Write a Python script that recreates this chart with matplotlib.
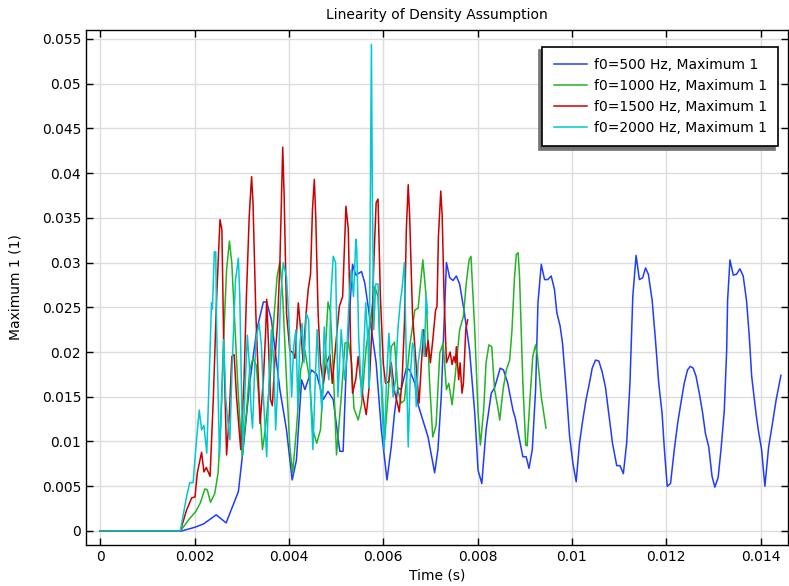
import matplotlib
matplotlib.use("Agg")
import matplotlib.pyplot as plt
from matplotlib.ticker import FuncFormatter, MultipleLocator

# Puntos: (tiempo [s], Maximum 1)
pts_500 = [
    (0, 0), (0.00173, 0), (0.0020, 0.0004), (0.00219, 0.00078), (0.00246, 0.0018),
    (0.00267, 0.0009), (0.00293, 0.0044), (0.00303, 0.0091), (0.00317, 0.0165),
    (0.00332, 0.0225), (0.00346, 0.0256), (0.00353, 0.0256), (0.00363, 0.0236),
    (0.00381, 0.0158), (0.00395, 0.0113), (0.00407, 0.0057), (0.00416, 0.0079),
    (0.00427, 0.0169), (0.00434, 0.0158), (0.00448, 0.018), (0.00459, 0.0175),
    (0.00473, 0.0147), (0.00483, 0.0156), (0.00494, 0.0147), (0.00508, 0.0089),
    (0.00515, 0.0089), (0.00522, 0.0188), (0.00535, 0.0298), (0.00542, 0.0286),
    (0.00554, 0.029), (0.00561, 0.0277), (0.00575, 0.0225), (0.00585, 0.0188),
    (0.00596, 0.0113), (0.00608, 0.0057), (0.00617, 0.0094), (0.00624, 0.0132),
    (0.00631, 0.016), (0.00638, 0.0158), (0.00649, 0.0182), (0.00656, 0.018),
    (0.00667, 0.0165), (0.00674, 0.0141), (0.00684, 0.0124), (0.00695, 0.0105),
    (0.00709, 0.0065), (0.00716, 0.0091), (0.00723, 0.015), (0.00734, 0.03),
    (0.00741, 0.0283), (0.00748, 0.028), (0.00755, 0.0285), (0.00762, 0.0276),
    (0.00772, 0.0244), (0.00783, 0.0202), (0.00794, 0.0132), (0.00801, 0.0068),
    (0.00809, 0.0053), (0.00818, 0.0113), (0.00829, 0.0154), (0.00836, 0.016),
    (0.00848, 0.0182), (0.00855, 0.018), (0.00864, 0.0165), (0.00875, 0.0135),
    (0.0088, 0.0126), (0.00889, 0.0102), (0.00896, 0.0083), (0.00903, 0.0083),
    (0.00909, 0.007), (0.00916, 0.0091), (0.00923, 0.0158), (0.00928, 0.0255),
    (0.00935, 0.0298), (0.00942, 0.0281), (0.00949, 0.0281), (0.00956, 0.0285),
    (0.00963, 0.027), (0.00968, 0.0244), (0.00975, 0.0229), (0.0098, 0.021),
    (0.00988, 0.0158), (0.00995, 0.0106), (0.01002, 0.0076), (0.01009, 0.0055),
    (0.01016, 0.0098), (0.01023, 0.0124), (0.0103, 0.0147), (0.01037, 0.0165),
    (0.01043, 0.0182), (0.0105, 0.0191), (0.01057, 0.019), (0.01064, 0.0178),
    (0.01071, 0.0161), (0.01078, 0.0132), (0.01086, 0.0098), (0.01095, 0.0073),
    (0.01102, 0.0073), (0.01109, 0.0064), (0.01116, 0.0098), (0.01123, 0.0165),
    (0.01129, 0.0262), (0.01136, 0.0308), (0.01143, 0.0281), (0.0115, 0.0283),
    (0.01156, 0.0294), (0.01162, 0.0287), (0.0117, 0.0258), (0.01177, 0.0214),
    (0.01184, 0.0165), (0.01191, 0.0132), (0.01196, 0.0091), (0.01202, 0.005),
    (0.01209, 0.0053), (0.01217, 0.0091), (0.01224, 0.012), (0.01231, 0.0143),
    (0.01238, 0.0165), (0.01245, 0.018), (0.01251, 0.0184), (0.01257, 0.0182),
    (0.01263, 0.0173), (0.0127, 0.0154), (0.01277, 0.0132), (0.01283, 0.0109),
    (0.0129, 0.0094), (0.01297, 0.0061), (0.01303, 0.0049), (0.0131, 0.006),
    (0.01316, 0.0091), (0.01323, 0.0135), (0.01328, 0.0202), (0.0133, 0.0258),
    (0.01335, 0.0303), (0.01342, 0.0286), (0.01349, 0.0287), (0.01356, 0.0293),
    (0.01363, 0.0285), (0.0137, 0.0258), (0.01376, 0.0217), (0.01381, 0.0173),
    (0.0139, 0.0132), (0.01395, 0.0113), (0.01402, 0.0091), (0.01409, 0.005),
    (0.01417, 0.0094), (0.01425, 0.012), (0.01433, 0.0147), (0.01443, 0.0174),
]

pts_1000 = [
    (0, 0), (0.0017, 0), (0.0019, 0.0014), (0.00203, 0.0022), (0.00212, 0.0031),
    (0.00222, 0.0047), (0.00227, 0.0046), (0.00234, 0.0032), (0.00243, 0.0042),
    (0.0025, 0.0065), (0.00255, 0.0113), (0.00261, 0.0206), (0.00268, 0.0292),
    (0.00274, 0.0324), (0.00279, 0.03), (0.00286, 0.0225), (0.00293, 0.015),
    (0.00301, 0.0083), (0.0031, 0.0132), (0.00317, 0.018), (0.00324, 0.0193),
    (0.00331, 0.0185), (0.00339, 0.0132), (0.00344, 0.0091), (0.0035, 0.0113),
    (0.0036, 0.0169), (0.00368, 0.0236), (0.00375, 0.0284), (0.00381, 0.0301),
    (0.00387, 0.0262), (0.00395, 0.0169), (0.00402, 0.0094), (0.00408, 0.0065),
    (0.00416, 0.0113), (0.00425, 0.018), (0.00434, 0.0202), (0.00444, 0.0169),
    (0.00451, 0.0113), (0.00459, 0.0098), (0.00467, 0.0113), (0.00476, 0.0188),
    (0.00483, 0.0256), (0.00488, 0.0245), (0.00495, 0.0169), (0.00501, 0.0085),
    (0.00511, 0.015), (0.00519, 0.021), (0.00526, 0.0211), (0.00533, 0.0188),
    (0.00538, 0.0137), (0.00547, 0.0124), (0.00554, 0.0141), (0.00564, 0.0206),
    (0.00575, 0.0243), (0.00582, 0.0273), (0.00589, 0.0262), (0.00596, 0.0169),
    (0.00603, 0.0102), (0.0061, 0.015), (0.00617, 0.0206), (0.00624, 0.0211),
    (0.00631, 0.0158), (0.00638, 0.0143), (0.00645, 0.0146), (0.00656, 0.0206),
    (0.00667, 0.0247), (0.00674, 0.0249), (0.00684, 0.0303), (0.00691, 0.0262),
    (0.00698, 0.0169), (0.00705, 0.0105), (0.00712, 0.0118), (0.0072, 0.0199),
    (0.00727, 0.021), (0.00734, 0.0158), (0.00739, 0.0165), (0.00746, 0.0141),
    (0.00753, 0.0176), (0.00762, 0.0225), (0.0077, 0.024), (0.00776, 0.0277),
    (0.00782, 0.0303), (0.00786, 0.0307), (0.00794, 0.0225), (0.00801, 0.0132),
    (0.00806, 0.0096), (0.00813, 0.0136), (0.00818, 0.0188), (0.00824, 0.0208),
    (0.0083, 0.0206), (0.00836, 0.0158), (0.00843, 0.0138), (0.00847, 0.0124),
    (0.00854, 0.0158), (0.00861, 0.018), (0.00868, 0.0191), (0.00873, 0.0225),
    (0.00878, 0.0281), (0.00882, 0.0309), (0.00886, 0.0311), (0.00889, 0.0284),
    (0.00896, 0.0165), (0.00902, 0.0096), (0.00905, 0.0095), (0.00911, 0.0147),
    (0.00917, 0.0195), (0.00923, 0.0208), (0.00927, 0.0195), (0.00935, 0.015),
    (0.00945, 0.0115),
]

pts_1500 = [
    (0, 0), (0.0017, 0), (0.00183, 0.0023), (0.00194, 0.0037), (0.00201, 0.0038),
    (0.00206, 0.0065), (0.00215, 0.0088), (0.0022, 0.0066), (0.00225, 0.0071),
    (0.00233, 0.0061), (0.0024, 0.015), (0.00247, 0.0262), (0.00254, 0.0348),
    (0.00258, 0.0337), (0.00262, 0.0206), (0.00268, 0.0085), (0.00274, 0.0132),
    (0.00279, 0.0195), (0.00284, 0.0197), (0.00289, 0.015), (0.00298, 0.0091),
    (0.00305, 0.0169), (0.0031, 0.0262), (0.00316, 0.0352), (0.00321, 0.0396),
    (0.00324, 0.0367), (0.0033, 0.0243), (0.00339, 0.012), (0.00346, 0.0169),
    (0.00351, 0.0225), (0.00353, 0.0259), (0.00357, 0.0206), (0.00361, 0.0147),
    (0.00365, 0.014), (0.0037, 0.0188), (0.00376, 0.0232), (0.00381, 0.03),
    (0.00387, 0.0429), (0.0039, 0.0375), (0.00395, 0.0243), (0.00402, 0.0202),
    (0.00409, 0.0199), (0.00413, 0.0193), (0.0042, 0.0255), (0.00425, 0.0225),
    (0.0043, 0.0191), (0.00436, 0.024), (0.00441, 0.027), (0.00446, 0.0287),
    (0.0045, 0.0359), (0.00454, 0.0393), (0.00457, 0.0351), (0.00462, 0.0243),
    (0.00467, 0.0188), (0.00473, 0.0165), (0.0048, 0.0188), (0.00487, 0.0197),
    (0.00492, 0.0165), (0.00499, 0.0206), (0.00507, 0.0251), (0.00514, 0.0262),
    (0.00521, 0.0363), (0.00526, 0.0337), (0.00531, 0.0206), (0.00535, 0.0154),
    (0.00542, 0.017), (0.00547, 0.0195), (0.00552, 0.0169), (0.00557, 0.015),
    (0.00564, 0.013), (0.0057, 0.016), (0.00576, 0.0225), (0.0058, 0.03),
    (0.00585, 0.0367), (0.00589, 0.0371), (0.00594, 0.0262), (0.006, 0.0188),
    (0.00605, 0.0165), (0.00612, 0.0167), (0.00617, 0.0188), (0.00624, 0.0156),
    (0.0063, 0.0143), (0.00634, 0.0133), (0.0064, 0.0169), (0.00645, 0.0232),
    (0.00649, 0.0337), (0.00653, 0.0387), (0.00656, 0.0352), (0.00662, 0.0243),
    (0.00667, 0.0206), (0.00672, 0.0169), (0.00676, 0.0143), (0.00681, 0.0188),
    (0.00686, 0.0225), (0.00691, 0.0195), (0.00695, 0.0213), (0.007, 0.0188),
    (0.00705, 0.0213), (0.00711, 0.0247), (0.00714, 0.0251), (0.00717, 0.0329),
    (0.00722, 0.038), (0.00725, 0.0352), (0.00729, 0.0262), (0.00734, 0.0188),
    (0.00739, 0.0195), (0.00742, 0.02), (0.00746, 0.0186), (0.0075, 0.0195),
    (0.00753, 0.0188), (0.00755, 0.0206), (0.0076, 0.0169), (0.00763, 0.0188),
    (0.00767, 0.0154), (0.0077, 0.0165), (0.00775, 0.0225), (0.00779, 0.0236),
]

pts_2000 = [
    (0, 0), (0.0017, 0), (0.00183, 0.0038), (0.0019, 0.0054), (0.00197, 0.0054),
    (0.00203, 0.0094), (0.0021, 0.0135), (0.00215, 0.0113), (0.0022, 0.0118),
    (0.00226, 0.0087), (0.00231, 0.0169), (0.00236, 0.0255), (0.00238, 0.0248),
    (0.00242, 0.0312), (0.00245, 0.0312), (0.00247, 0.0225), (0.00253, 0.0083),
    (0.00258, 0.015), (0.00262, 0.0214), (0.00266, 0.015), (0.0027, 0.0126),
    (0.00275, 0.0102), (0.0028, 0.0188), (0.00287, 0.0281), (0.00293, 0.0305),
    (0.00296, 0.0262), (0.00302, 0.0087), (0.00307, 0.0158), (0.00312, 0.0219),
    (0.00316, 0.0188), (0.0032, 0.0135), (0.00323, 0.0115), (0.00328, 0.0188),
    (0.00331, 0.0217), (0.00337, 0.0232), (0.00342, 0.0206), (0.00346, 0.015),
    (0.00353, 0.0083), (0.00358, 0.0169), (0.00363, 0.0225), (0.00368, 0.0188),
    (0.00372, 0.0113), (0.00377, 0.0169), (0.00382, 0.0255), (0.00388, 0.03),
    (0.00395, 0.0284), (0.00401, 0.0225), (0.00406, 0.015), (0.0041, 0.0206),
    (0.00415, 0.0225), (0.00419, 0.0139), (0.00423, 0.0206), (0.00428, 0.0232),
    (0.00432, 0.0188), (0.00437, 0.0243), (0.00442, 0.0236), (0.00446, 0.015),
    (0.00451, 0.0091), (0.00456, 0.0169), (0.0046, 0.0225), (0.00465, 0.0169),
    (0.0047, 0.0135), (0.00475, 0.0228), (0.0048, 0.0188), (0.00485, 0.0169),
    (0.00489, 0.0262), (0.00494, 0.0307), (0.00499, 0.03), (0.00504, 0.015),
    (0.00511, 0.0225), (0.00518, 0.0169), (0.00522, 0.0188), (0.00527, 0.0251),
    (0.00532, 0.0292), (0.00537, 0.0262), (0.00542, 0.0326), (0.00544, 0.0315),
    (0.00548, 0.0217), (0.00554, 0.015), (0.00559, 0.0206), (0.00563, 0.0255),
    (0.00568, 0.0206), (0.0057, 0.016), (0.00572, 0.0315), (0.00575, 0.0544),
    (0.00577, 0.0375), (0.0058, 0.0225), (0.00584, 0.0276), (0.00589, 0.0276),
    (0.00593, 0.0206), (0.00598, 0.0132), (0.00602, 0.0091), (0.00607, 0.0169),
    (0.00612, 0.0221), (0.00616, 0.0188), (0.00621, 0.015), (0.00626, 0.0169),
    (0.00631, 0.0225), (0.00636, 0.0255), (0.0064, 0.0271), (0.00645, 0.03),
    (0.00649, 0.0188), (0.00653, 0.0094), (0.00657, 0.0169), (0.00662, 0.021),
    (0.00665, 0.0206), (0.0067, 0.0139), (0.00674, 0.0188), (0.00679, 0.0206),
    (0.00683, 0.0225), (0.00687, 0.0195), (0.00691, 0.0262), (0.00694, 0.0243),
]

series = [
    (pts_500, "f0=500 Hz, Maximum 1", "#1f3cff"),
    (pts_1000, "f0=1000 Hz, Maximum 1", "#22b422"),
    (pts_1500, "f0=1500 Hz, Maximum 1", "#cc0000"),
    (pts_2000, "f0=2000 Hz, Maximum 1", "#00c8d2"),
]

fig = plt.figure(figsize=(7.89, 5.86), dpi=100)
ax = fig.add_axes([86 / 789, 41 / 586, 702 / 789, 515 / 586])

for pts, label, color in series:
    t = [p[0] for p in pts]
    v = [p[1] for p in pts]
    ax.plot(t, v, color=color, linewidth=1.1, label=label)

ax.set_xlim(-0.0003, 0.01458)
ax.set_ylim(-0.00157, 0.056)
ax.xaxis.set_major_locator(MultipleLocator(0.002))
ax.yaxis.set_major_locator(MultipleLocator(0.005))
fmt = FuncFormatter(lambda val, pos: "%g" % round(val, 6))
ax.xaxis.set_major_formatter(fmt)
ax.yaxis.set_major_formatter(fmt)

ax.tick_params(direction="in", top=True, right=True, length=5, width=1,
               labelsize=10, colors="black")
ax.grid(True, color="#dcdcdc", linewidth=1)
ax.set_axisbelow(True)
for s in ax.spines.values():
    s.set_linewidth(1)

ax.set_title("Linearity of Density Assumption", fontsize=10, pad=8)
ax.set_xlabel("Time (s)", fontsize=10, labelpad=3)
ax.set_ylabel("Maximum 1 (1)", fontsize=10, labelpad=14)

leg = ax.legend(loc="upper right", fontsize=10, fancybox=False,
                shadow={"ox": -2.5, "oy": -2.5, "color": "0.45", "alpha": 1},
                framealpha=1, edgecolor="black", borderpad=0.8,
                handlelength=2.4, handletextpad=0.5, labelspacing=0.5,
                borderaxespad=0, bbox_to_anchor=(0.9858, 0.967))
leg.get_frame().set_linewidth(1.2)

fig.savefig("out.png", dpi=100)
